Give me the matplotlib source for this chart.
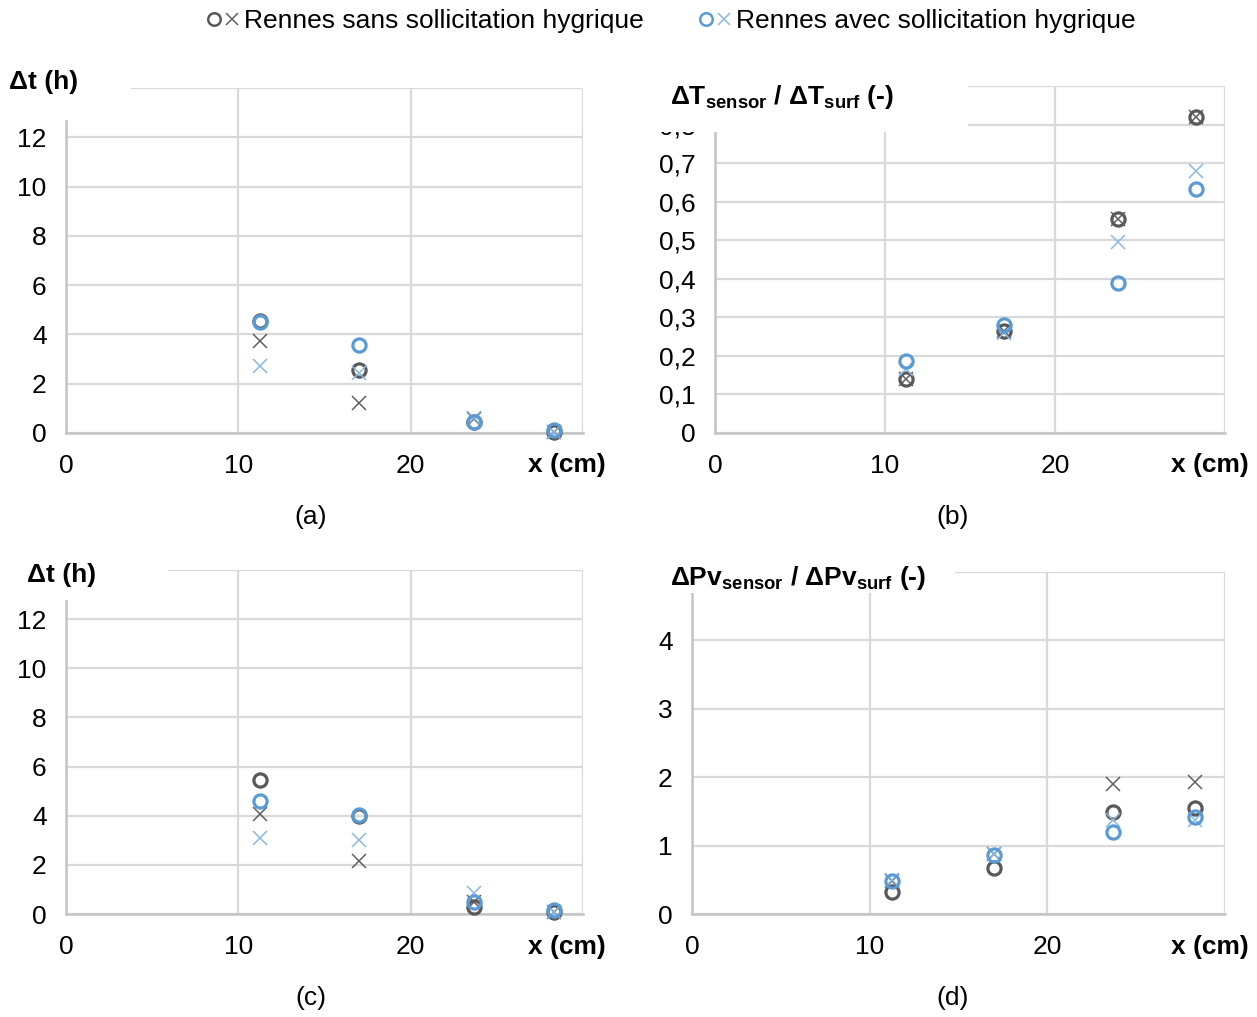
import numpy as np
import matplotlib.pyplot as plt
from matplotlib.patches import Rectangle
from matplotlib.ticker import FuncFormatter
from matplotlib.legend_handler import HandlerTuple

plt.rcParams['font.family'] = ['Liberation Sans', 'DejaVu Sans']
plt.rcParams['mathtext.fontset'] = 'custom'
plt.rcParams['mathtext.rm'] = 'Liberation Sans'
plt.rcParams['mathtext.bf'] = 'Liberation Sans:bold'

# sensor positions (cm)
x_pos = [11.25, 17.0, 23.7, 28.3]

# (a) time lag, first case
a_sans_o = [4.55, 2.56, 0.45, 0.05]
a_sans_x = [3.74, 1.22, 0.55, 0.05]
a_avec_o = [4.5, 3.58, 0.45, 0.12]
a_avec_x = [2.72, 2.44, 0.6, 0.05]

# (b) temperature amplitude ratio
b_sans_o = [0.14, 0.265, 0.555, 0.82]
b_sans_x = [0.14, 0.265, 0.555, 0.82]
b_avec_o = [0.187, 0.28, 0.39, 0.633]
b_avec_x = [0.165, 0.26, 0.495, 0.68]

# (c) time lag, second case
c_sans_o = [5.45, 4.0, 0.28, 0.08]
c_sans_x = [4.07, 2.16, 0.5, 0.08]
c_avec_o = [4.6, 4.03, 0.5, 0.16]
c_avec_x = [3.09, 3.0, 0.85, 0.1]

# (d) vapour pressure amplitude ratio
d_sans_o = [0.32, 0.67, 1.49, 1.55]
d_sans_x = [0.48, 0.88, 1.9, 1.93]
d_avec_o = [0.48, 0.86, 1.2, 1.42]
d_avec_x = [0.5, 0.88, 1.37, 1.38]

legend_labels = ['Rennes sans sollicitation hygrique',
                 'Rennes avec sollicitation hygrique']

dark = '#595959'
dark_x = '#606060'
blue = '#5b9bd5'
blue_x = '#8bb8e4'
grid_c = '#d9d9d9'

W, H = 1257, 1017
fig = plt.figure(figsize=(W / 100, H / 100), dpi=100)
fs = 19


def px_ax(l, r, t, b):
    return [l / W, 1 - b / H, (r - l) / W, (b - t) / H]


def white_box(l, t, r, b):
    fig.patches.append(Rectangle((l / W, 1 - b / H), (r - l) / W, (b - t) / H,
                                 transform=fig.transFigure, facecolor='white',
                                 edgecolor='none', zorder=5))


def panel(rect, ymax, ystep, data, decimal=False, keep_next=False):
    ax = fig.add_axes(rect)
    so, sx, ao, ax_ = data
    ax.plot(x_pos, sx, 'x', color=dark_x, ms=10, mew=1.1, clip_on=False, zorder=3)
    ax.plot(x_pos, so, 'o', mfc='none', mec=dark, ms=9.5, mew=2.3, clip_on=False, zorder=3)
    ax.plot(x_pos, ax_, 'x', color=blue_x, ms=10, mew=1.1, clip_on=False, zorder=4)
    ax.plot(x_pos, ao, 'o', mfc='none', mec=blue, ms=9.5, mew=2.3, clip_on=False, zorder=4)
    ax.set_xlim(0, 30)
    ax.set_ylim(0, ymax)
    ax.set_xticks([0, 10, 20, 30])
    # the 30 label sits under the "x (cm)" title
    ax.set_xticklabels(['0', '10', '20', ''])
    yt = np.arange(0, ymax + ystep / 2, ystep)
    ax.set_yticks(yt)
    labs = []
    for i, v in enumerate(yt):
        s = ('%.1f' % v).replace('.', ',') if decimal else '%d' % round(v)
        if v == 0:
            s = '0'
        if i == len(yt) - 1:
            s = ''  # hidden by the axis title box
        labs.append(s)
    ax.set_yticklabels(labs)
    ax.grid(True, color=grid_c, lw=1.6)
    ax.set_axisbelow(True)
    for s in ['top', 'right']:
        ax.spines[s].set_visible(False)
    for s in ['left', 'bottom']:
        ax.spines[s].set_color('#c4c4c4')
        ax.spines[s].set_linewidth(1.8)
    ax.tick_params(length=0, labelsize=fs, pad=15)
    ax.tick_params(axis='y', pad=14)
    return ax


panel(px_ax(66, 583, 88, 433), 14, 2, (a_sans_o, a_sans_x, a_avec_o, a_avec_x))
panel(px_ax(715, 1225, 86, 433), 0.9, 0.1, (b_sans_o, b_sans_x, b_avec_o, b_avec_x), decimal=True)
panel(px_ax(66, 583, 570, 914), 14, 2, (c_sans_o, c_sans_x, c_avec_o, c_avec_x))
panel(px_ax(692, 1225, 572, 914), 5, 1, (d_sans_o, d_sans_x, d_avec_o, d_avec_x))

# axis title boxes (they hide part of the grid, like in the original)
white_box(0, 55, 131, 120)
white_box(645, 70, 968, 132)
white_box(0, 545, 168, 600)
white_box(645, 545, 955, 593)
for (l, t, r, b) in [(520, 448, 612, 484), (1163, 448, 1257, 484),
                     (520, 930, 612, 966), (1163, 930, 1257, 966)]:
    white_box(l, t, r, b)


def ftext(x, y, s, **kw):
    fig.text(x / W, 1 - y / H, s, fontsize=fs, va='center', zorder=6, **kw)


ftext(9, 82, 'Δt (h)', fontweight='bold')
ftext(27, 575, 'Δt (h)', fontweight='bold')
ftext(670, 97, r'ΔT$_{\mathbf{sensor}}$ / ΔT$_{\mathbf{surf}}$ (-)', fontweight='bold')
ftext(670, 578, r'ΔPv$_{\mathbf{sensor}}$ / ΔPv$_{\mathbf{surf}}$ (-)', fontweight='bold')
for xr, yc in [(606, 465), (1249, 465), (606, 947), (1249, 947)]:
    ftext(xr, yc, 'x (cm)', fontweight='bold', ha='right')

for xc, yc, lab in [(311, 517, '(a)'), (953, 517, '(b)'), (311, 998, '(c)'), (953, 998, '(d)')]:
    ftext(xc, yc, lab, ha='center')

# legend: circle + cross for each case
h1 = (plt.Line2D([], [], ls='none', marker='o', mfc='none', mec=dark, ms=9, mew=1.8),
      plt.Line2D([], [], ls='none', marker='x', color=dark_x, ms=8, mew=1.1))
h2 = (plt.Line2D([], [], ls='none', marker='o', mfc='none', mec=blue, ms=9, mew=1.8),
      plt.Line2D([], [], ls='none', marker='x', color=blue_x, ms=8, mew=1.1))
fig.legend([h1, h2], legend_labels, loc='center', bbox_to_anchor=(670 / W, 1 - 21 / H),
           ncol=2, frameon=False, fontsize=fs, handler_map={tuple: HandlerTuple(ndivide=None, pad=0.0)},
           handlelength=1.4, handletextpad=0.1, columnspacing=2.0)

fig.savefig('out.png', dpi=100)
